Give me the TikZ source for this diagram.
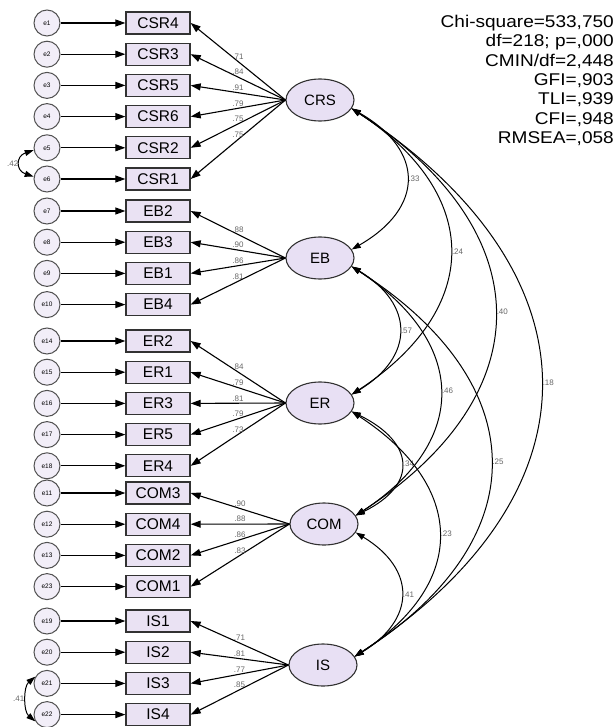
\documentclass[tikz,border=0pt]{standalone}
\usepackage{fontspec}
\setmainfont{Liberation Sans}
\newfontfamily\statfont[FakeStretch=1.12]{Liberation Sans}
\usepackage{tikz}
\usetikzlibrary{shapes.geometric, arrows.meta}
\definecolor{boxfill}{RGB}{234,226,243}
\definecolor{latfill}{RGB}{232,224,244}
\definecolor{errfill}{RGB}{242,238,248}
\definecolor{edgecol}{RGB}{50,50,50}
\tikzstyle{indicator} = [
    rectangle,
    minimum width=64pt,
    minimum height=22pt,
    inner sep=0pt,
    draw=edgecol,
    line width=1.3pt,
    fill=boxfill,
    font=\fontsize{15.5}{15.5}\selectfont
]
\tikzstyle{resid} = [
    circle,
    minimum size=26pt,
    inner sep=0pt,
    draw=edgecol!85,
    line width=1pt,
    fill=errfill,
    font=\fontsize{6.5}{6.5}\selectfont
]
\tikzstyle{latent} = [
    ellipse,
    minimum width=68pt,
    minimum height=42pt,
    inner sep=0pt,
    draw=edgecol,
    line width=1.1pt,
    fill=latfill,
    font=\fontsize{15}{15}\selectfont
]
\tikzstyle{arrow} = [line width=1.1pt, -{Triangle[length=10pt,width=7pt]}]
\tikzstyle{cov} = [line width=1pt, {Triangle[length=9pt,width=6pt]}-{Triangle[length=9pt,width=6pt]}]
\tikzstyle{coef} = [font=\fontsize{8}{8}\selectfont, text=black!60, inner sep=1.5pt]

\begin{document}
\begin{tikzpicture}[x=1pt, y=-1pt, node distance=31.2pt]

\useasboundingbox (0,0) rectangle (615,727);

\node (CSR4) [indicator] at (158,23) {CSR4};
\node (CSR3) [indicator, below of=CSR4] {CSR3};
\node (CSR5) [indicator, below of=CSR3] {CSR5};
\node (CSR6) [indicator, below of=CSR5] {CSR6};
\node (CSR2) [indicator, below of=CSR6] {CSR2};
\node (CSR1) [indicator, below of=CSR2] {CSR1};

\node (EB2) [indicator] at (158,211) {EB2};
\node (EB3) [indicator, below of=EB2] {EB3};
\node (EB1) [indicator, below of=EB3] {EB1};
\node (EB4) [indicator, below of=EB1] {EB4};

\node (ER2) [indicator] at (158,341) {ER2};
\node (ER1) [indicator, below of=ER2] {ER1};
\node (ER3) [indicator, below of=ER1] {ER3};
\node (ER5) [indicator, below of=ER3] {ER5};
\node (ER4) [indicator, below of=ER5] {ER4};

\node (COM3) [indicator] at (158,493) {COM3};
\node (COM4) [indicator, below of=COM3] {COM4};
\node (COM2) [indicator, below of=COM4] {COM2};
\node (COM1) [indicator, below of=COM2] {COM1};

\node (IS1) [indicator] at (158,621) {IS1};
\node (IS2) [indicator, below of=IS1] {IS2};
\node (IS3) [indicator, below of=IS2] {IS3};
\node (IS4) [indicator, below of=IS3] {IS4};

\node (e1) [resid, node distance=111pt, left of=CSR4] {e1};
\node (e2) [resid, node distance=111pt, left of=CSR3] {e2};
\node (e3) [resid, node distance=111pt, left of=CSR5] {e3};
\node (e4) [resid, node distance=111pt, left of=CSR6] {e4};
\node (e5) [resid, node distance=111pt, left of=CSR2] {e5};
\node (e6) [resid, node distance=111pt, left of=CSR1] {e6};
\node (e7) [resid, node distance=111pt, left of=EB2] {e7};
\node (e8) [resid, node distance=111pt, left of=EB3] {e8};
\node (e9) [resid, node distance=111pt, left of=EB1] {e9};
\node (e10) [resid, node distance=111pt, left of=EB4] {e10};
\node (e14) [resid, node distance=111pt, left of=ER2] {e14};
\node (e15) [resid, node distance=111pt, left of=ER1] {e15};
\node (e16) [resid, node distance=111pt, left of=ER3] {e16};
\node (e17) [resid, node distance=111pt, left of=ER5] {e17};
\node (e18) [resid, node distance=111pt, left of=ER4] {e18};
\node (e11) [resid, node distance=111pt, left of=COM3] {e11};
\node (e12) [resid, node distance=111pt, left of=COM4] {e12};
\node (e13) [resid, node distance=111pt, left of=COM2] {e13};
\node (e23) [resid, node distance=111pt, left of=COM1] {e23};
\node (e19) [resid, node distance=111pt, left of=IS1] {e19};
\node (e20) [resid, node distance=111pt, left of=IS2] {e20};
\node (e21) [resid, node distance=111pt, left of=IS3] {e21};
\node (e22) [resid, node distance=111pt, left of=IS4] {e22};

\node (CRS) [latent] at (320,100) {CRS};
\node (EB) [latent] at (320,258) {EB};
\node (ER) [latent] at (320,403) {ER};
\node (COM) [latent] at (324,524) {COM};
\node (IS) [latent] at (323,665) {IS};

\node (fit) [anchor=north east, align=right, inner sep=0pt,
    font=\statfont\fontsize{17}{19.3}\selectfont] at (614,15)
{Chi-square=533,750\\df=218; p=,000\\CMIN/df=2,448\\GFI=,903\\TLI=,939\\CFI=,948\\RMSEA=,058};

\draw [arrow] (e1) -- (CSR4);
\draw [arrow] (e2) -- (CSR3);
\draw [arrow] (e3) -- (CSR5);
\draw [arrow] (e4) -- (CSR6);
\draw [arrow] (e5) -- (CSR2);
\draw [arrow] (e6) -- (CSR1);
\draw [arrow] (e7) -- (EB2);
\draw [arrow] (e8) -- (EB3);
\draw [arrow] (e9) -- (EB1);
\draw [arrow] (e10) -- (EB4);
\draw [arrow] (e14) -- (ER2);
\draw [arrow] (e15) -- (ER1);
\draw [arrow] (e16) -- (ER3);
\draw [arrow] (e17) -- (ER5);
\draw [arrow] (e18) -- (ER4);
\draw [arrow] (e11) -- (COM3);
\draw [arrow] (e12) -- (COM4);
\draw [arrow] (e13) -- (COM2);
\draw [arrow] (e23) -- (COM1);
\draw [arrow] (e19) -- (IS1);
\draw [arrow] (e20) -- (IS2);
\draw [arrow] (e21) -- (IS3);
\draw [arrow] (e22) -- (IS4);

\draw [arrow] (CRS.west) -- node[coef, above] {.71} (CSR4.east);
\draw [arrow] (CRS.west) -- node[coef, above] {.84} (CSR3.east);
\draw [arrow] (CRS.west) -- node[coef, above] {.91} (CSR5.east);
\draw [arrow] (CRS.west) -- node[coef, above] {.79} (CSR6.east);
\draw [arrow] (CRS.west) -- node[coef, above] {.75} (CSR2.east);
\draw [arrow] (CRS.west) -- node[coef, above] {.75} (CSR1.east);

\draw [arrow] (EB.west) -- node[coef, above] {.88} (EB2.east);
\draw [arrow] (EB.west) -- node[coef, above] {.90} (EB3.east);
\draw [arrow] (EB.west) -- node[coef, above] {.86} (EB1.east);
\draw [arrow] (EB.west) -- node[coef, above] {.81} (EB4.east);

\draw [arrow] (ER.west) -- node[coef, above] {.84} (ER2.east);
\draw [arrow] (ER.west) -- node[coef, above] {.79} (ER1.east);
\draw [arrow] (ER.west) -- node[coef, above] {.81} (ER3.east);
\draw [arrow] (ER.west) -- node[coef, above] {.79} (ER5.east);
\draw [arrow] (ER.west) -- node[coef, above] {.73} (ER4.east);

\draw [arrow] (COM.west) -- node[coef, above] {.90} (COM3.east);
\draw [arrow] (COM.west) -- node[coef, above] {.88} (COM4.east);
\draw [arrow] (COM.west) -- node[coef, above] {.86} (COM2.east);
\draw [arrow] (COM.west) -- node[coef, above] {.83} (COM1.east);

\draw [arrow] (IS.west) -- node[coef, above] {.71} (IS1.east);
\draw [arrow] (IS.west) -- node[coef, above] {.81} (IS2.east);
\draw [arrow] (IS.west) -- node[coef, above] {.77} (IS3.east);
\draw [arrow] (IS.west) -- node[coef, above] {.85} (IS4.east);

\draw [cov] (e5.190) .. controls +(-18,6) and +(-18,-6) .. node[coef, left] {.42} (e6.170);
\draw [cov] (e21.150) .. controls +(-12,10) and +(-12,-10) .. node[coef, left] {.41} (e22.210);

\draw [cov] (CRS.-15) .. controls +(73,42) and +(73,-42) .. node[coef, right] {.33} (EB.15);
\draw [cov] (CRS.-15) .. controls +(131,86) and +(131,-86) .. node[coef, right] {.24} (ER.15);
\draw [cov] (CRS.-15) .. controls +(188,122) and +(188,-122) .. node[coef, right] {.40} (COM.15);
\draw [cov] (CRS.-15) .. controls +(250,164) and +(250,-164) .. node[coef, right] {.18} (IS.15);
\draw [cov] (EB.-15) .. controls +(63,38) and +(63,-38) .. node[coef, right] {.57} (ER.15);
\draw [cov] (EB.-15) .. controls +(115,75) and +(115,-75) .. node[coef, right] {.46} (COM.15);
\draw [cov] (EB.-15) .. controls +(183,117) and +(183,-117) .. node[coef, right] {.25} (IS.15);
\draw [cov] (ER.-15) .. controls +(63,31) and +(63,-31) .. node[coef, right] {.34} (COM.15);
\draw [cov] (ER.-15) .. controls +(114,74) and +(114,-74) .. node[coef, right] {.23} (IS.15);
\draw [cov] (COM.-15) .. controls +(61,37) and +(61,-37) .. node[coef, right] {.41} (IS.15);

\end{tikzpicture}
\end{document}
